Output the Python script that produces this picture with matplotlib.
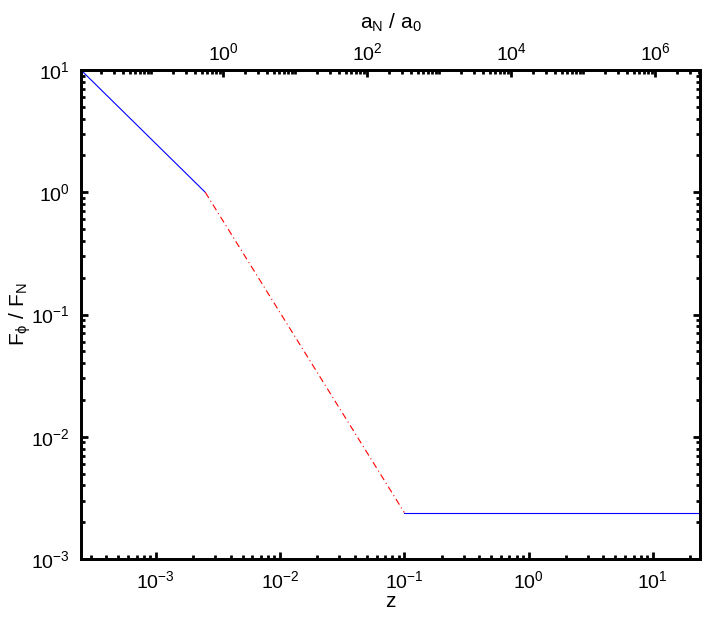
import matplotlib
matplotlib.use("Agg")
import matplotlib.pyplot as plt
from matplotlib.ticker import LogLocator, FixedLocator, NullFormatter, LogFormatterMathtext

plt.rcParams['font.family'] = ['Liberation Sans', 'DejaVu Sans']
plt.rcParams['mathtext.fontset'] = 'custom'
plt.rcParams['mathtext.rm'] = 'Liberation Sans'
plt.rcParams['mathtext.it'] = 'Liberation Sans'
plt.rcParams['mathtext.default'] = 'regular'

# Data
z_low = [2.5e-4, 2.5e-3]
f_low = [10.0, 1.0]
z_mid = [2.5e-3, 0.1]
f_mid = [1.0, 2.4e-3]
z_high = [0.1, 24.0]
f_high = [2.4e-3, 2.4e-3]

z_lim = [2.5e-4, 24.0]
f_lim = [1e-3, 1e1]
top_lim = [1.05e-2, 4.2e6]
top_major = [1e0, 1e2, 1e4, 1e6]

fig = plt.figure(figsize=(7.18, 6.17), dpi=100)
ax = fig.add_axes([0.1128, 0.094, 0.975 - 0.1128, 0.8865 - 0.094])
ax.plot(z_low, f_low, color='blue', lw=0.8)
ax.plot(z_mid, f_mid, color='red', lw=0.8, linestyle=(0, (6, 3, 1, 3)))
ax.plot(z_high, f_high, color='blue', lw=0.8)
ax.set_xscale('log')
ax.set_yscale('log')
ax.set_xlim(z_lim)
ax.set_ylim(f_lim)

for sp in ax.spines.values():
    sp.set_linewidth(2)

ax.xaxis.set_major_locator(LogLocator(base=10, numticks=20))
ax.xaxis.set_minor_locator(LogLocator(base=10, subs=range(2, 10), numticks=50))
ax.yaxis.set_major_locator(LogLocator(base=10, numticks=20))
ax.yaxis.set_minor_locator(LogLocator(base=10, subs=range(2, 10), numticks=50))
ax.xaxis.set_minor_formatter(NullFormatter())
ax.yaxis.set_minor_formatter(NullFormatter())
ax.xaxis.set_major_formatter(LogFormatterMathtext())
ax.yaxis.set_major_formatter(LogFormatterMathtext())
ax.tick_params(which='both', direction='in', top=False, right=True, labelsize=14, width=2)
ax.tick_params(which='major', length=5, pad=8)
ax.tick_params(which='minor', length=3)
ax.set_xlabel('z', fontsize=15, labelpad=0)
ax.set_ylabel(r'F$_\phi$ / F$_N$', fontsize=15)
ax.yaxis.set_label_coords(-0.078, 0.5)

ax2 = ax.twiny()
ax2.set_xscale('log')
ax2.set_xlim(top_lim)
ax2.xaxis.set_major_locator(FixedLocator(top_major))
ax2.xaxis.set_minor_locator(LogLocator(base=10, subs=range(1, 10), numticks=50))
ax2.xaxis.set_minor_formatter(NullFormatter())
ax2.xaxis.set_major_formatter(LogFormatterMathtext())
ax2.tick_params(which='both', direction='in', labelsize=14, width=2)
ax2.tick_params(which='major', length=5, pad=4)
ax2.tick_params(which='minor', length=3)
for sp in ax2.spines.values():
    sp.set_linewidth(2)
ax2.set_xlabel(r'a$_N$ / a$_0$', fontsize=15, labelpad=10)

fig.savefig('out.png', dpi=100)
